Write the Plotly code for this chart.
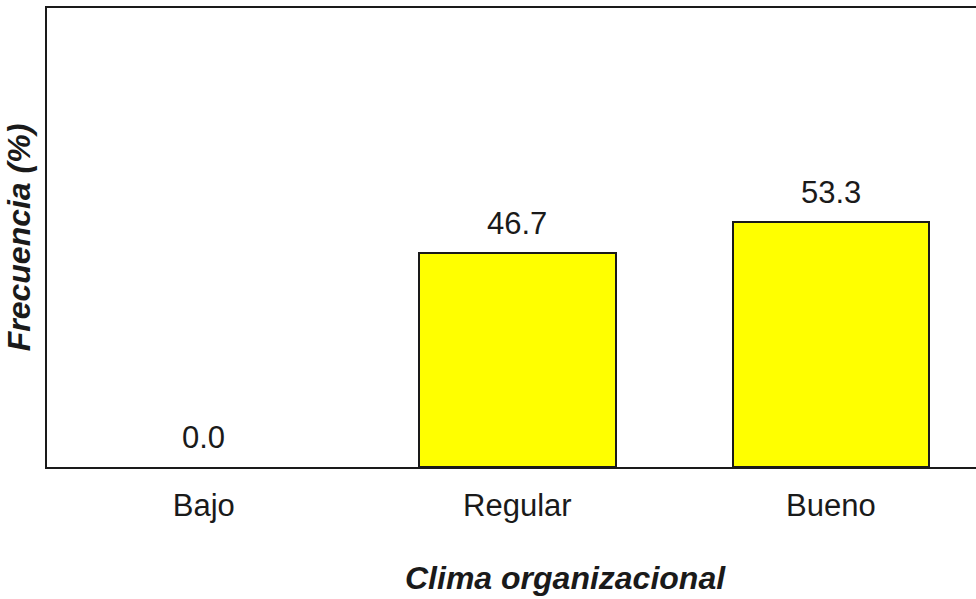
import plotly.graph_objects as go

categories = ["Bajo", "Regular", "Bueno"]
frecuencia = [0.0, 46.7, 53.3]
value_labels = [f"{v:.1f}" for v in frecuencia]

FONT = "Liberation Sans, Arial, sans-serif"

fig = go.Figure()
fig.add_trace(go.Bar(
    x=categories,
    y=frecuencia,
    width=0.627,
    marker=dict(
        color="#FFFF00",
        line=dict(color="#1a1a1a", width=[0 if v == 0 else 2 for v in frecuencia]),
    ),
    showlegend=False,
))

# value labels above each bar
for cat, val, lab in zip(categories, frecuencia, value_labels):
    fig.add_annotation(
        x=cat, y=val, text=lab, showarrow=False,
        yanchor="bottom", yshift=10,
        font=dict(family=FONT, size=31, color="#1a1a1a"),
    )

# x-axis title
fig.add_annotation(
    xref="paper", yref="paper", x=0.5576, y=-0.241,
    text="<b><i>Clima organizacional</i></b>", showarrow=False,
    xanchor="center", yanchor="middle",
    font=dict(family=FONT, size=32, color="#1a1a1a"),
)

fig.update_layout(
    width=976, height=599,
    margin=dict(l=47, r=0, t=8, b=132),
    paper_bgcolor="white", plot_bgcolor="white",
    bargap=0,
    xaxis=dict(
        range=[-0.5, 2.463],
        showline=True, linecolor="#1a1a1a", linewidth=2, mirror=True,
        showgrid=False, zeroline=False, ticks="",
        ticklabelstandoff=10,
        tickfont=dict(family=FONT, size=31, color="#1a1a1a"),
    ),
    yaxis=dict(
        range=[0, 100],
        showline=True, linecolor="#1a1a1a", linewidth=2,
        showgrid=False, zeroline=False, ticks="", showticklabels=False,
        title=dict(text="<b><i>Frecuencia (%)</i></b>", standoff=5,
                   font=dict(family=FONT, size=32, color="#1a1a1a")),
    ),
)

fig.write_html("out.html")
